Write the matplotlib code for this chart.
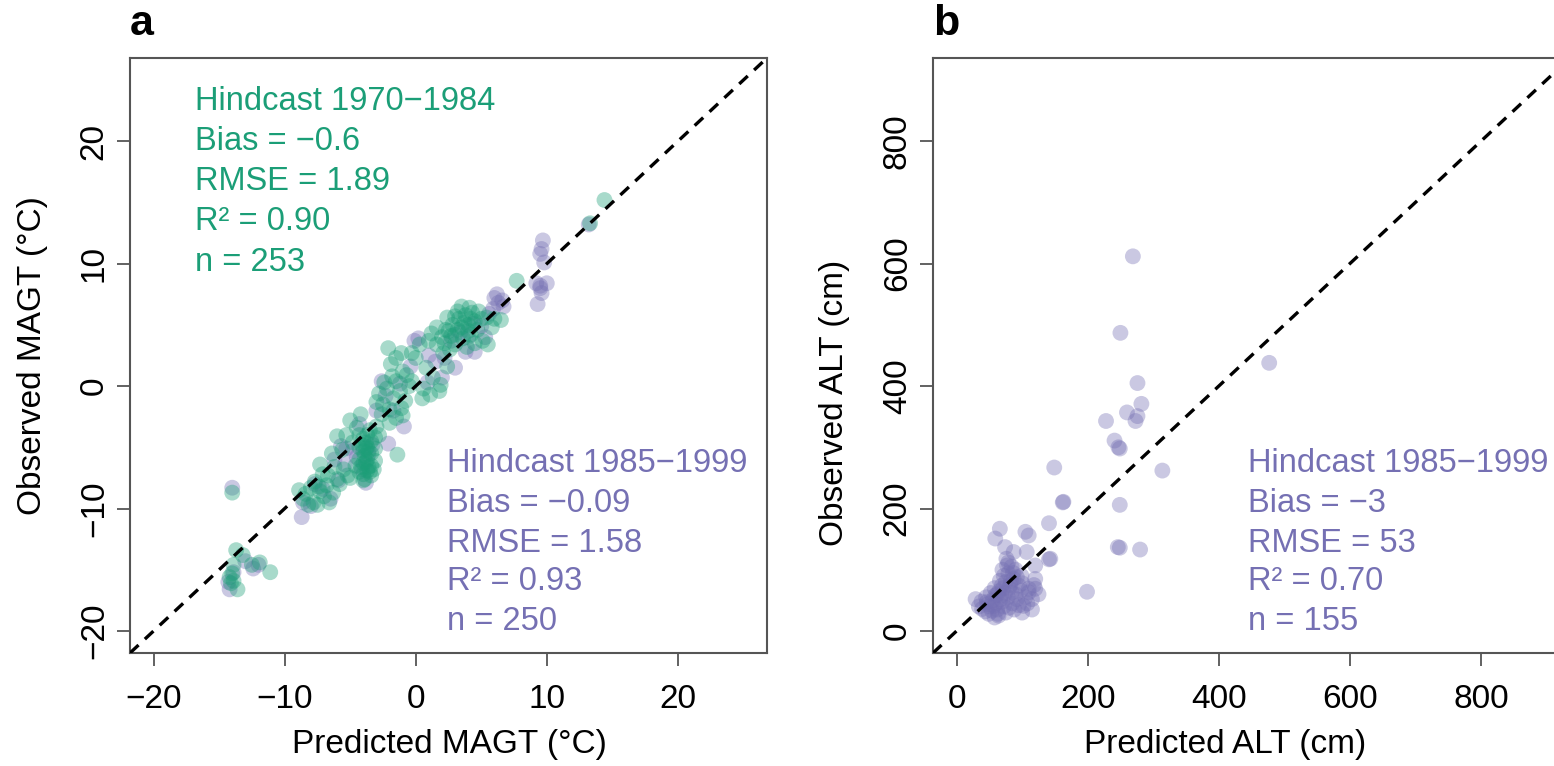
import numpy as np
import matplotlib
matplotlib.use('Agg')
import matplotlib.pyplot as plt

plt.rcParams['font.family'] = ['Liberation Sans', 'DejaVu Sans']

GREEN = '#1b9e77'
PURPLE = '#7570b3'

# panel a: MAGT hindcast 1970-1984 (predicted, observed)
magt_7084 = [
    (-14.0, -8.7), (-13.7, -13.4), (-13.2, -13.8), (-13.9, -14.6), (-12.5, -14.6), (-11.9, -14.4),
    (-11.1, -15.2), (-14.2, -15.6), (-13.9, -15.9), (-14.1, -16.1), (-13.6, -16.6), (-14.0, -15.3),
    (-8.6, -9.2), (-7.8, -9.5), (-7.3, -8.6), (-6.6, -9.5), (-7.5, -9.7), (-6.8, -8.1), (-7.3, -6.4),
    (-6.7, -7.3), (-8.4, -8.8), (-8.0, -8.3), (-7.0, -9.0), (-7.7, -7.8), (-6.3, -8.7), (-8.2, -9.7),
    (-7.1, -7.2), (-6.0, -7.6), (-6.2, -6.6), (-5.8, -8.0), (-8.9, -8.5), (-7.4, -8.2),
    (-6.0, -4.1), (-5.0, -2.8), (-4.5, -3.4), (-4.2, -2.3), (-5.2, -7.3), (-5.0, -7.5), (-4.0, -7.7),
    (-5.6, -5.2), (-5.3, -4.0), (-4.8, -4.6), (-5.5, -6.8), (-6.4, -5.5),
    (-4.3, -4.0), (-4.0, -4.3), (-3.7, -4.0), (-3.4, -4.5), (-3.1, -4.2),
    (-4.3, -5.0), (-4.0, -5.3), (-3.7, -5.0), (-3.4, -5.5), (-3.1, -5.1),
    (-4.3, -6.0), (-4.0, -6.3), (-3.7, -6.0), (-3.4, -6.5), (-3.1, -6.1),
    (-4.3, -7.0), (-4.0, -7.2), (-3.7, -6.9), (-3.4, -7.3), (-3.2, -6.8),
    (-3.8, -4.6), (-3.9, -5.7), (-3.6, -6.6), (-3.9, -7.6), (-3.5, -3.6), (-3.0, -3.3), (-2.8, -4.0),
    (-4.6, -6.5), (-4.1, -4.8), (-3.6, -5.3), (-3.8, -6.2), (-4.2, -6.6), (-3.5, -7.0), (-3.8, -5.1),
    (-3.0, -1.3), (-2.5, -1.5), (-2.0, -1.9), (-1.7, -1.0), (-1.1, -1.8), (-1.0, -2.4), (-1.5, -2.6),
    (-2.2, -0.2), (-1.5, 0.4), (-0.7, 0.9), (-0.5, 0.0), (-1.4, -5.6), (-2.6, -2.3), (-2.0, -3.0),
    (-1.2, -0.4), (-2.8, -0.6), (-0.8, -1.2), (-1.8, 0.8), (-2.4, 0.3),
    (-2.1, 3.1), (-1.5, 2.3), (-1.0, 1.2), (-0.3, 0.4), (0.6, -0.2), (1.1, -0.7), (1.8, -0.4),
    (1.3, 0.7), (1.9, 0.1), (0.0, 2.3), (0.3, 3.4), (1.6, 3.4), (2.1, 2.7), (-1.1, 2.7), (-0.3, 2.7),
    (1.2, 4.3), (1.0, 3.7), (0.8, 1.5), (2.4, 1.6), (-1.9, 1.8), (0.5, -1.0),
    (3.5, 6.5), (2.0, 4.0), (2.5, 4.5), (3.0, 4.2), (3.5, 4.8), (4.0, 5.0), (4.5, 5.3), (5.0, 5.5),
    (2.8, 5.0), (3.3, 5.5), (3.8, 5.8), (4.3, 6.0), (4.8, 6.1), (2.2, 3.5), (3.0, 3.4), (3.6, 3.9),
    (4.2, 4.2), (4.7, 4.6), (5.1, 3.7), (5.5, 3.4), (5.4, 5.6), (2.6, 3.0), (3.9, 3.2), (4.5, 3.5),
    (5.8, 4.8), (3.2, 6.1), (4.1, 6.4), (2.4, 5.6), (6.0, 5.5), (1.6, 4.8),
    (2.7, 4.1), (3.2, 4.6), (3.7, 5.2), (4.2, 5.5), (2.3, 4.6), (3.0, 5.7), (4.0, 4.5),
    (7.7, 8.6), (13.3, 13.3), (14.4, 15.2), (6.5, 5.4),
]

# panel a: MAGT hindcast 1985-1999
magt_8599 = [
    (-14.0, -8.3), (-12.4, -14.9), (-12.0, -14.6), (-14.2, -16.6), (-13.9, -15.2), (-8.7, -10.7),
    (-8.6, -9.5), (-8.0, -9.8), (-7.1, -8.4), (-6.5, -9.2), (-5.3, -5.1), (-4.5, -5.8), (-5.4, -6.4),
    (-5.7, -4.9), (-3.3, -4.8), (-4.1, -6.8), (-3.6, -5.6), (-4.8, -5.3), (-0.9, -3.3), (-2.6, 0.4),
    (-0.1, 3.7), (2.0, 0.7), (0.2, 3.9), (-6.2, -6.0), (-3.0, -2.0), (-2.3, -0.8), (-1.2, 0.2),
    (0.9, 0.3), (1.5, 2.0), (2.7, 3.7), (3.4, 4.4), (4.4, 5.1), (5.0, 4.9), (5.6, 5.9), (6.0, 7.2),
    (6.3, 6.8), (6.7, 6.5), (6.2, 7.5), (5.9, 6.3), (9.7, 11.9), (9.6, 11.2), (9.5, 10.8), (9.8, 10.1),
    (9.2, 8.4), (9.5, 8.0), (9.6, 7.6), (10.0, 8.4), (9.3, 6.7), (9.5, 8.2), (13.2, 13.2), (3.0, 1.5),
    (4.5, 2.8), (-1.7, -2.0), (-4.3, -3.1), (-7.7, -8.0), (-5.9, -7.7), (-3.8, -7.9), (-2.1, -4.7),
    (1.0, 2.5), (-0.4, 1.6), (2.2, 2.3), (3.8, 2.8), (4.0, 4.0), (5.3, 4.0), (6.6, 7.0),
    (-14.3, -16.0), (-13.0, -14.3),
]

# panel b: ALT hindcast 1985-1999
alt_8599 = [
    (269, 612), (250, 487), (477, 438), (276, 405), (282, 371), (260, 357), (276, 351), (273, 343),
    (228, 343), (241, 311), (247, 300), (249, 298), (149, 267), (314, 262), (162, 210), (249, 206),
    (141, 176), (246, 137), (249, 136), (280, 133), (141, 117), (199, 64), (163, 211),
    (66, 167), (59, 151), (74, 137), (87, 129), (105, 162), (110, 156), (107, 129), (143, 118),
    (120, 107), (120, 85), (110, 69),
    (77, 107), (79, 94), (69, 74), (84, 63), (59, 58), (29, 52), (46, 47), (39, 36), (54, 33),
    (64, 25), (49, 28), (92, 52), (102, 41), (110, 63), (95, 74), (87, 85), (72, 90), (79, 112),
    (67, 52), (57, 41), (115, 52), (120, 69), (100, 30),
    (70, 100), (75, 80), (80, 70), (65, 65), (60, 45), (72, 40), (85, 45), (90, 60), (78, 55),
    (68, 58), (55, 50), (50, 40), (62, 35), (75, 30), (88, 35), (95, 42), (82, 75), (74, 62),
    (66, 82), (58, 70), (45, 55), (38, 48), (52, 62), (86, 95), (92, 88), (100, 78), (105, 55),
    (63, 28), (70, 48), (80, 38), (58, 22), (44, 32), (34, 40), (76, 118), (84, 105), (90, 100),
    (71, 70), (62, 60), (48, 44), (98, 66), (108, 45), (115, 35), (125, 60), (118, 75), (99, 90),
    (83, 82),
]

stats_7084 = ['Hindcast 1970\u22121984', 'Bias = \u22120.6', 'RMSE = 1.89', 'R\u00b2 = 0.90', 'n = 253']
stats_8599_magt = ['Hindcast 1985\u22121999', 'Bias = \u22120.09', 'RMSE = 1.58', 'R\u00b2 = 0.93', 'n = 250']
stats_8599_alt = ['Hindcast 1985\u22121999', 'Bias = \u22123', 'RMSE = 53', 'R\u00b2 = 0.70', 'n = 155']

W, H = 1554, 766
fig = plt.figure(figsize=(W / 100, H / 100), dpi=100)


def px_axes(left, top, w, h):
    return fig.add_axes([left / W, 1 - (top + h) / H, w / W, h / H])


def style_axes(ax, ticks):
    for sp in ax.spines.values():
        sp.set_color('#555555')
        sp.set_linewidth(1.5)
    ax.set_xticks(ticks)
    ax.set_yticks(ticks)
    ax.set_xticklabels([str(t).replace('-', '\u2212') for t in ticks])
    ax.set_yticklabels([str(t).replace('-', '\u2212') for t in ticks])
    ax.tick_params(length=9.5, width=1.3, color='#555555', labelsize=24, labelcolor='black')
    ax.tick_params(axis='x', pad=13)
    ax.tick_params(axis='y', pad=5, labelrotation=90)
    for lbl in ax.get_yticklabels():
        lbl.set_va('center')
    ax.axline((0, 0), slope=1, color='black', lw=2.4, linestyle=(0, (3.5, 2.6)), zorder=3)


def scatter(ax, pts, color):
    arr = np.array(pts, dtype=float)
    ax.scatter(arr[:, 0], arr[:, 1], s=130, color=color, alpha=0.38, edgecolors='none', zorder=2)


def stats_text(x, ys, lines, color):
    for y, s in zip(ys, lines):
        fig.text(x / W, 1 - y / H, s, color=color, fontsize=23.5, ha='left', va='center')


# panel a
axa = px_axes(130, 58, 637, 595)
axa.set_xlim(-21.8, 26.8)
axa.set_ylim(-21.8, 26.8)
scatter(axa, magt_8599, PURPLE)
scatter(axa, magt_7084, GREEN)
style_axes(axa, [-20, -10, 0, 10, 20])

# panel b (clipped on the right like the original)
axb = px_axes(933, 58, 637, 595)
axb.set_xlim(-36, 936)
axb.set_ylim(-36, 936)
scatter(axb, alt_8599, PURPLE)
style_axes(axb, [0, 200, 400, 600, 800])

text_y_top = [102, 142, 182, 222, 262]
text_y_bot = [464, 503, 543, 582, 622]
stats_text(195, text_y_top, stats_7084, GREEN)
stats_text(447, text_y_bot, stats_8599_magt, PURPLE)
stats_text(1248, text_y_bot, stats_8599_alt, PURPLE)

fig.text(449 / W, 1 - 745 / H, 'Predicted MAGT (\u00b0C)', fontsize=24, ha='center', va='center')
fig.text(33 / W, 1 - 356 / H, 'Observed MAGT (\u00b0C)', fontsize=24, ha='center', va='center', rotation=90)
fig.text(1225 / W, 1 - 745 / H, 'Predicted ALT (cm)', fontsize=24, ha='center', va='center')
fig.text(835 / W, 1 - 403 / H, 'Observed ALT (cm)', fontsize=24, ha='center', va='center', rotation=90)

fig.text(130 / W, 1 - 24 / H, 'a', fontsize=31, fontweight='bold', ha='left', va='center')
fig.text(933 / W, 1 - 24 / H, 'b', fontsize=31, fontweight='bold', ha='left', va='center')

fig.savefig('out.png', dpi=100)
